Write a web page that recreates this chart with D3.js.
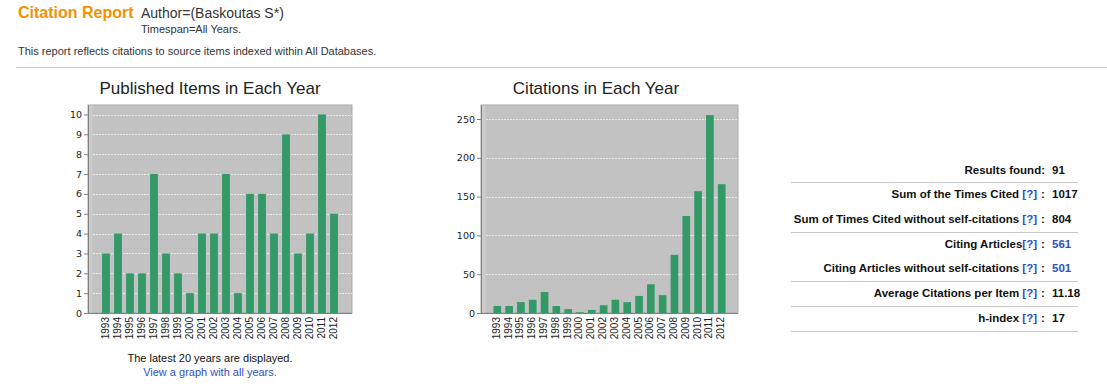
<!DOCTYPE html>
<html><head><meta charset="utf-8">
<script src="https://cdn.jsdelivr.net/npm/d3@7"></script>
<style>
body{margin:0;background:#fff;}
svg{display:block;font-family:"Liberation Sans",Arial,sans-serif;}
</style></head>
<body><svg id="c" width="1107" height="390"></svg>
<script>
const years = ["1993","1994","1995","1996","1997","1998","1999","2000","2001","2002","2003","2004","2005","2006","2007","2008","2009","2010","2011","2012"];
const publishedItems = [3,4,2,2,7,3,2,1,4,4,7,1,6,6,4,9,3,4,10,5];
const citations = [9,9,14,17,27,9,5,1,4,10,17,14,22,37,23,75,125,157,255,166];
const publishedTicks = [0,1,2,3,4,5,6,7,8,9,10];
const citationTicks = [0,50,100,150,200,250];
const statLabels = ["Results found:","Sum of the Times Cited","Sum of Times Cited without self-citations","Citing Articles","Citing Articles without self-citations","Average Citations per Item","h-index"];
const statHelp = [false,true,true,true,true,true,true];
const statValues = ["91","1017","804","561","501","11.18","17"];
const statIsLink = [false,false,false,true,true,false,false];
const statRuleAfter = [true,false,true,false,true,true,true];

const svg = d3.select("#c");
const BLUE = "#2f4fc4";

// header
svg.append("text").attr("x",18).attr("y",18).attr("font-size",16).attr("font-weight","bold").attr("fill","#f39200").text("Citation Report");
svg.append("text").attr("x",141).attr("y",18).attr("font-size",14).attr("fill","#333").text("Author=(Baskoutas S*)");
svg.append("text").attr("x",141).attr("y",33).attr("font-size",11).attr("fill","#333").text("Timespan=All Years.");
svg.append("text").attr("x",18).attr("y",55).attr("font-size",11).attr("fill","#333").text("This report reflects citations to source items indexed within All Databases.");
svg.append("line").attr("x1",16).attr("x2",1107).attr("y1",67.5).attr("y2",67.5).attr("stroke","#ccc");

function chart(o){
  const g = svg.append("g");
  g.append("text").attr("x",o.cx).attr("y",94).attr("text-anchor","middle").attr("font-size",17).attr("fill","#222").text(o.title);
  g.append("rect").attr("x",o.x0).attr("y",105).attr("width",o.x1-o.x0).attr("height",313-105).attr("fill","#c2c2c2").attr("stroke","#a8a8a8");
  g.append("rect").attr("x",o.x0+0.5).attr("y",105.5).attr("width",4).attr("height",207).attr("fill","#cbcbcb");
  const x = d3.scaleBand().domain(years).range([o.x0+o.pad,o.x1-o.pad]).paddingInner(0.35).paddingOuter(0.175);
  const y = d3.scaleLinear().domain([0,o.ticks[o.ticks.length-1]]).range([313,o.topY]);
  g.selectAll(".grid").data(o.ticks.slice(1)).join("line")
    .attr("x1",o.x0+5).attr("x2",o.x1).attr("y1",d=>Math.round(y(d))+0.5).attr("y2",d=>Math.round(y(d))+0.5)
    .attr("stroke","#ececec").attr("stroke-dasharray","2,1");
  g.selectAll(".bar").data(o.values).join("rect")
    .attr("x",(d,i)=>x(years[i])).attr("width",x.bandwidth())
    .attr("y",d=>y(d)).attr("height",d=>313-y(d)).attr("fill","#339966");
  const ya = g.append("g").attr("transform",`translate(${o.x0},0)`)
    .call(d3.axisLeft(y).tickValues(o.ticks).tickSize(4).tickPadding(2));
  ya.select(".domain").attr("stroke","#808080").attr("d",`M0.5,105V313.5`);
  ya.selectAll(".tick line").attr("stroke","#808080");
  ya.selectAll("text").attr("fill","#222").attr("font-family","'DejaVu Sans',sans-serif").attr("font-size",9.5);
  const xa = g.append("g").attr("transform","translate(0,313)")
    .call(d3.axisBottom(x).tickSize(0).tickPadding(0));
  xa.select(".domain").attr("stroke","#808080").attr("d",`M${o.x0},0.5H${o.x1}`);
  xa.selectAll("text").attr("font-size",10).attr("fill","#222").attr("text-anchor","end")
    .attr("transform","rotate(-90)").attr("x",-4).attr("y",-1).attr("dy","0.35em");
}
chart({title:"Published Items in Each Year",cx:210,x0:88,x1:352,pad:12,values:publishedItems,ticks:publishedTicks,topY:114.5});
chart({title:"Citations in Each Year",cx:596,x0:481,x1:738,pad:10.4,values:citations,ticks:citationTicks,topY:119});

svg.append("text").attr("x",210).attr("y",362).attr("text-anchor","middle").attr("font-size",11).attr("fill","#111").text("The latest 20 years are displayed.");
svg.append("text").attr("x",210).attr("y",376).attr("text-anchor","middle").attr("font-size",11).attr("fill",BLUE).text("View a graph with all years.");

// stats table
const rowY = d3.range(statLabels.length).map(i=>173.5+i*24.7);
const FS = 11.5;
statLabels.forEach((lab,i)=>{
  const t = svg.append("text").attr("x",1037).attr("y",rowY[i]).attr("text-anchor","end").attr("font-size",FS).attr("font-weight","bold").attr("fill","#111");
  if(statHelp[i]){
    t.append("tspan").text(lab+(i===3?"":" "));
    t.append("tspan").attr("fill",BLUE).text("[?]");
    svg.append("text").attr("x",1041).attr("y",rowY[i]).attr("font-size",FS).attr("font-weight","bold").attr("fill","#111").text(":");
  } else {
    t.attr("x",1045).text(lab);
  }
  svg.append("text").attr("x",1052).attr("y",rowY[i]).attr("font-size",FS).attr("font-weight","bold")
    .attr("fill",statIsLink[i]?BLUE:"#111").text(statValues[i]);
  if(statRuleAfter[i]){
    svg.append("line").attr("x1",791).attr("x2",1078).attr("y1",Math.round(rowY[i]+8.8)+0.5).attr("y2",Math.round(rowY[i]+8.8)+0.5).attr("stroke","#c8c8c8");
  }
});
</script></body></html>
